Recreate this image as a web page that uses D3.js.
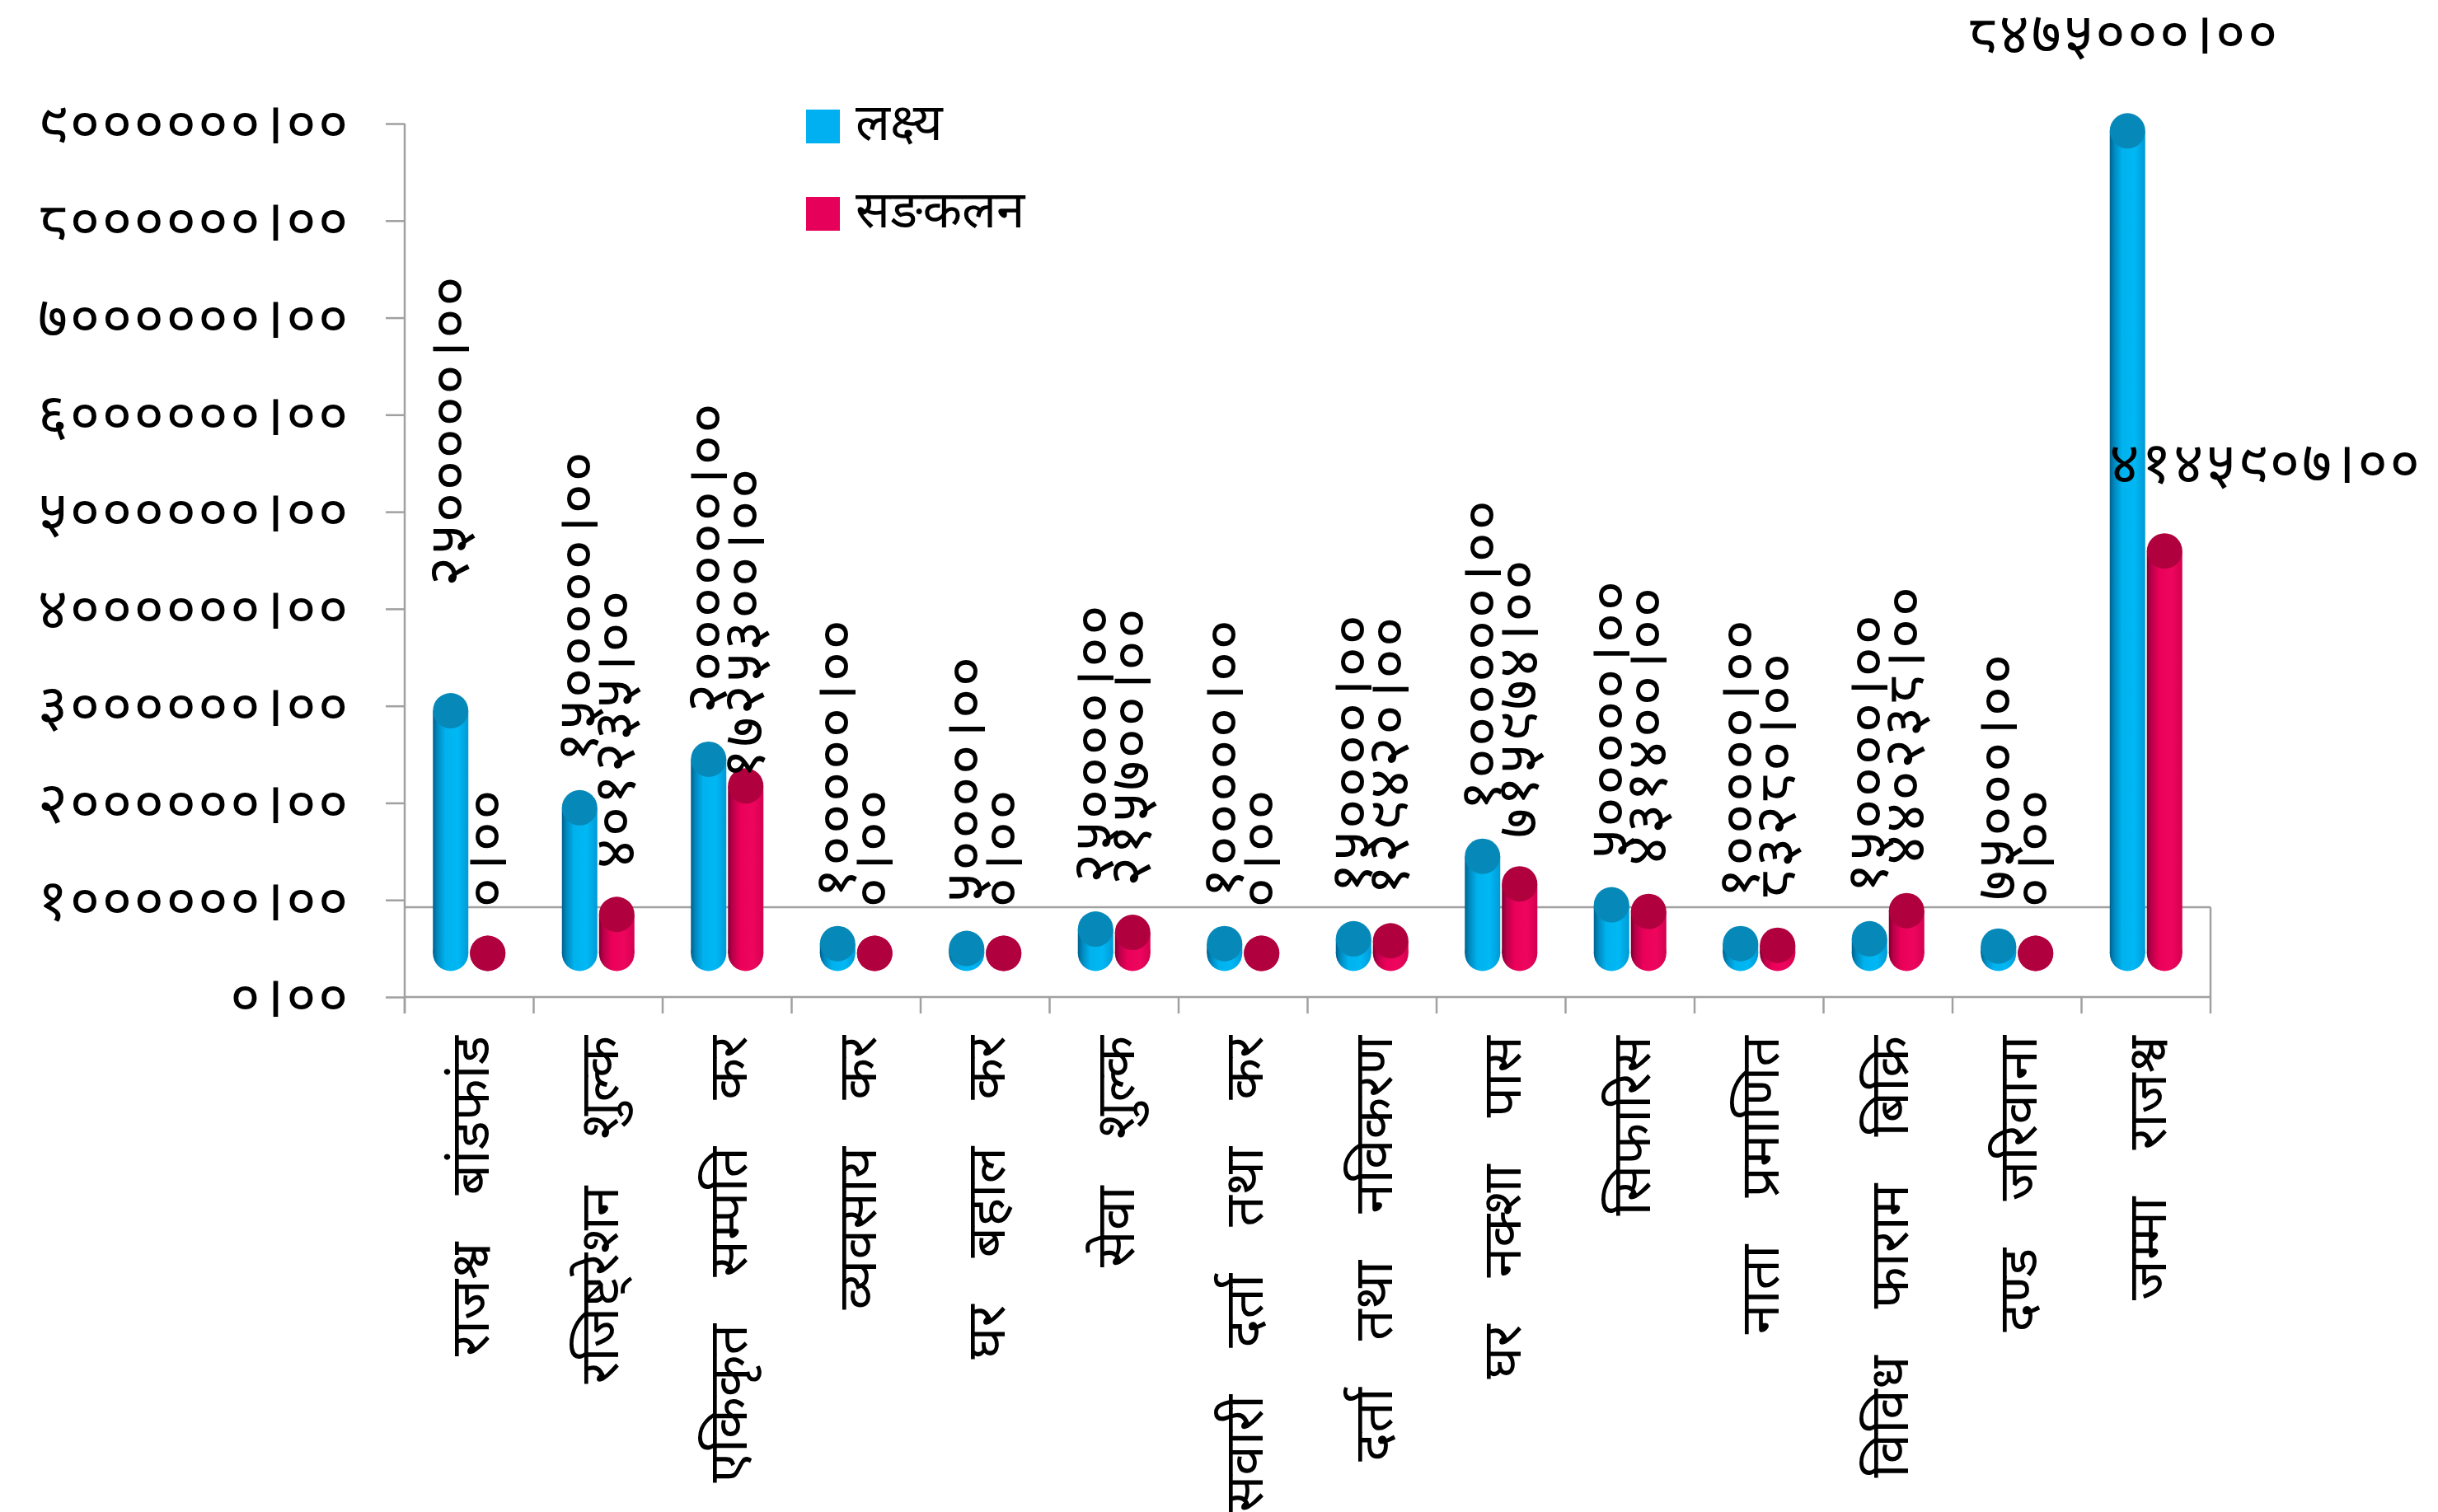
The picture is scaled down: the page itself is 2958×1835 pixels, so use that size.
<!DOCTYPE html>
<html lang="ne">
<head>
<meta charset="utf-8">
<title>राजश्व लक्ष्य र सङकलन</title>
<script src="https://d3js.org/d3.v7.min.js"></script>
<style>
  body { margin: 0; background: #fff; }
  text { font-family: "Noto Sans Devanagari", "Noto Serif Devanagari", "Lohit Devanagari", "Noto Sans", sans-serif; fill: #000; }
</style>
</head>
<body>
<script>
// chart data
var categories = ["राजश्व बांडफांड", "रजिष्ट्रेशन शुल्क", "एकिकृत सम्पति कर", "व्यवसाय कर",
                  "घर बहाल कर", "सेवा शुल्क", "सवारी दर्ता तथा कर", "दर्ता तथा नविकरण",
                  "घर नक्शा पास", "सिफारिस", "नाता प्रमाणित", "विविध फाराम बिक्रि",
                  "दण्ड जरिवाना", "जम्मा राजश्व"];
var targetValues = [2500000, 1500000, 2000000, 100000, 50000, 250000, 100000,
                    150000, 1000000, 500000, 100000, 150000, 75000, 8475000];
var collectedValues = [0, 401235, 1725300, 0, 0, 215700, 0,
                       129420, 715974, 431400, 83280, 440238, 0, 4145907];
var seriesNames = ["लक्ष्य", "सङकलन"];
var tickValues = [0, 1000000, 2000000, 3000000, 4000000, 5000000,
                  6000000, 7000000, 8000000, 9000000];

var width = 2958, height = 1835;
var plot = {left: 491, right: 2682, top: 150, bottom: 1210};
var floorDepth = 109;   // back edge of the 3d floor above the axis line
var barDepth = 53;      // bars stand in the middle of the floor
var radius = 21.5;
var numFont = {size: "70px", spacing: "2.5px"};

var devDigits = "०१२३४५६७८९";
function nepaliNumber(v) {
  return v.toFixed(2).replace(/[0-9]/g, function(d) { return devDigits[+d]; }).replace(".", "।");
}

var svg = d3.select("body").append("svg")
  .attr("width", width)
  .attr("height", height);

var x = d3.scaleBand().domain(categories).range([plot.left, plot.right]);
var y = d3.scaleLinear().domain([0, 9000000]).range([plot.bottom, plot.top]);

// gradients for the cylinder bodies
var defs = svg.append("defs");
var series = [
  {name: seriesNames[0], values: targetValues, id: "bodyBlue", cap: "#0689b9", swatch: "#00b0f0", shift: -22.5,
   stops: [[0, "#00608c"], [0.12, "#0087bd"], [0.35, "#00b2ee"], [0.7, "#00b8f4"], [1, "#009ad6"]]},
  {name: seriesNames[1], values: collectedValues, id: "bodyPink", cap: "#b0003e", swatch: "#e6005a", shift: 22.5,
   stops: [[0, "#7c002c"], [0.12, "#b8004a"], [0.35, "#ea0058"], [0.7, "#ee065e"], [1, "#d4004f"]]}
];
series.forEach(function(s) {
  var g = defs.append("linearGradient").attr("id", s.id)
    .attr("x1", 0).attr("x2", 1).attr("y1", 0).attr("y2", 0);
  s.stops.forEach(function(st) {
    g.append("stop").attr("offset", st[0]).attr("stop-color", st[1]);
  });
});

// floor of the 3d box
var grid = svg.append("g").attr("stroke", "#a0a0a0").attr("stroke-width", 2.5).attr("fill", "none");
grid.append("line").attr("x1", plot.left).attr("x2", plot.right)
  .attr("y1", y(0) - floorDepth).attr("y2", y(0) - floorDepth);
grid.append("line").attr("x1", plot.right).attr("x2", plot.right)
  .attr("y1", y(0) - floorDepth).attr("y2", y(0));
grid.append("line").attr("x1", plot.left).attr("x2", plot.right)
  .attr("y1", y(0)).attr("y2", y(0));

// category ticks on the band edges
var edges = categories.map(function(c) { return x(c); }).concat([plot.right]);
grid.selectAll(".ctick").data(edges).enter().append("line")
  .attr("x1", function(d) { return d; }).attr("x2", function(d) { return d; })
  .attr("y1", y(0)).attr("y2", y(0) + 20);

// y axis
var yAxis = d3.axisLeft(y).tickValues(tickValues).tickSize(23).tickSizeOuter(0)
  .tickFormat(nepaliNumber);
var yg = svg.append("g").attr("transform", "translate(" + plot.left + ",0)").call(yAxis);
yg.select(".domain").remove();
yg.selectAll(".tick line").attr("stroke", "#a0a0a0").attr("stroke-width", 2.5);
yg.selectAll(".tick text")
  .attr("x", -66)
  .attr("dy", "0.34em")
  .style("font-size", numFont.size)
  .style("letter-spacing", numFont.spacing);
svg.append("line").attr("x1", plot.left).attr("x2", plot.left)
  .attr("y1", plot.top).attr("y2", y(0) + 20)
  .attr("stroke", "#a0a0a0").attr("stroke-width", 2.5);

// cylinders
var bars = svg.append("g");
series.forEach(function(s) {
  var g = bars.append("g");
  var rows = categories.map(function(c, i) {
    return {cx: x(c) + x.bandwidth() / 2 + s.shift, base: y(0) - barDepth, top: y(s.values[i]) - barDepth};
  });
  g.selectAll(".body").data(rows).enter().append("rect")
    .attr("x", function(d) { return d.cx - radius; })
    .attr("y", function(d) { return d.top; })
    .attr("width", radius * 2)
    .attr("height", function(d) { return d.base - d.top; })
    .attr("fill", "url(#" + s.id + ")");
  g.selectAll(".bottom").data(rows).enter().append("ellipse")
    .attr("cx", function(d) { return d.cx; })
    .attr("cy", function(d) { return d.base; })
    .attr("rx", radius).attr("ry", radius)
    .attr("fill", "url(#" + s.id + ")");
  g.selectAll(".cap").data(rows).enter().append("ellipse")
    .attr("cx", function(d) { return d.cx; })
    .attr("cy", function(d) { return d.top; })
    .attr("rx", radius).attr("ry", radius)
    .attr("fill", s.cap);
});

// value labels, turned on their side except for the total
var last = categories.length - 1;
var nudge = {"0-0": -95, "1-2": 47};
series.forEach(function(s, si) {
  s.values.forEach(function(v, i) {
    var cx = x(categories[i]) + x.bandwidth() / 2 + s.shift;
    var capTop = y(v) - barDepth - radius;
    var t = svg.append("text").text(nepaliNumber(v))
      .style("font-size", numFont.size).style("letter-spacing", numFont.spacing);
    if (i === last) {
      if (si === 0) {
        t.attr("x", cx - 5).attr("y", capTop - 72).attr("text-anchor", "middle");
      } else {
        t.attr("x", cx - 67).attr("y", capTop - 61).attr("text-anchor", "start");
      }
    } else {
      var yy = capTop - 34 + (nudge[si + "-" + i] || 0);
      t.attr("text-anchor", "start")
        .attr("transform", "translate(" + (cx + 22) + "," + yy + ") rotate(-90)");
    }
  });
});

// category labels
svg.append("g").selectAll("text").data(categories).enter().append("text")
  .text(function(d) { return d; })
  .attr("text-anchor", "end")
  .attr("transform", function(d) {
    return "translate(" + (x(d) + x.bandwidth() / 2 + 24) + "," + 1257 + ") rotate(-90)";
  })
  .style("font-size", "66px")
  .style("word-spacing", "40px");

// legend
var legend = svg.append("g");
series.forEach(function(s, i) {
  legend.append("rect").attr("x", 978).attr("y", 133 + i * 106)
    .attr("width", 41).attr("height", 41).attr("fill", s.swatch);
  legend.append("text").attr("x", 1038).attr("y", 170 + i * 106)
    .text(s.name).style("font-size", "62px");
});
</script>
</body>
</html>
